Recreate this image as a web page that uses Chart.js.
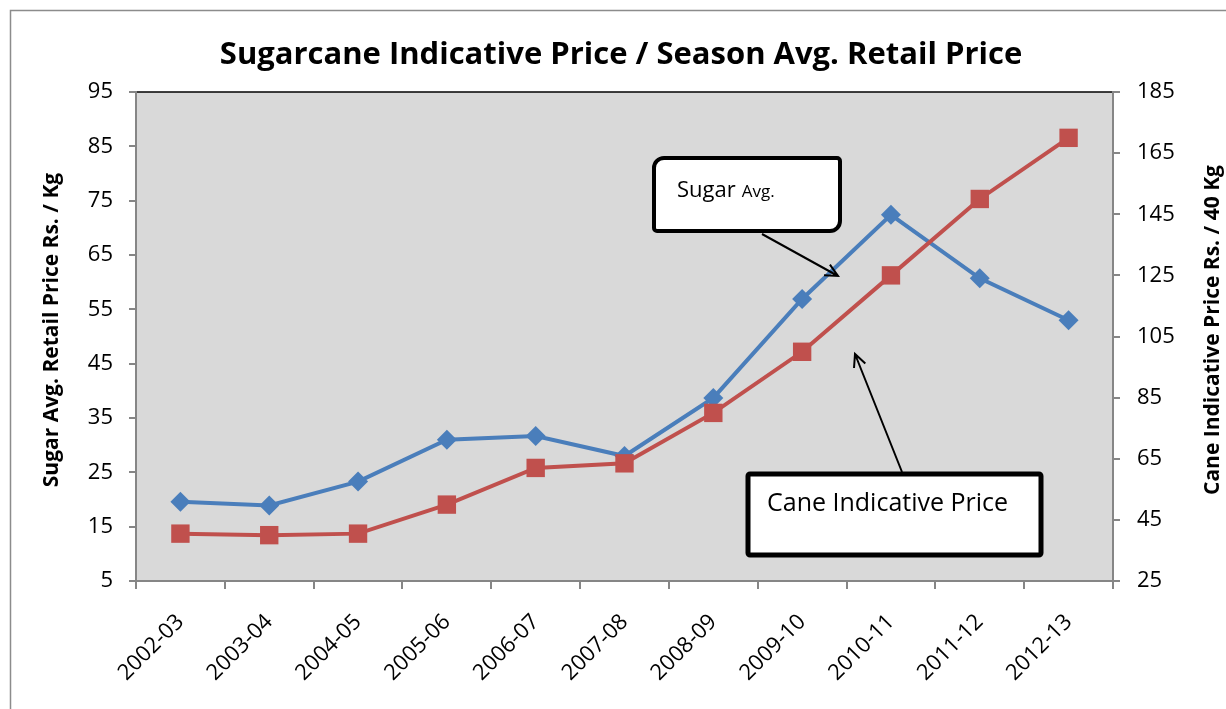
<!DOCTYPE html>
<html>
<head>
<meta charset="utf-8">
<script src="https://cdn.jsdelivr.net/npm/chart.js@4.4.1/dist/chart.umd.min.js"></script>
<style>
  body { margin: 0; background: #fff; }
  canvas { display: block; }
</style>
</head>
<body>
<canvas id="chart" width="1226" height="709"></canvas>
<script>
// data
const categories = ['2002-03', '2003-04', '2004-05', '2005-06', '2006-07', '2007-08',
                    '2008-09', '2009-10', '2010-11', '2011-12', '2012-13'];
const sugarAvg = [19.6, 18.9, 23.3, 31, 31.7, 28, 38.7, 56.9, 72.4, 60.7, 53];
const caneIndicative = [40.5, 40, 40.5, 50, 62, 63.5, 80, 100, 125, 150, 170];

const chartTitle = 'Sugarcane Indicative Price / Season Avg. Retail Price';
const leftTitle = 'Sugar Avg. Retail Price Rs. / Kg';
const rightTitle = 'Cane Indicative Price Rs. / 40 Kg';

const FONT = '"Open Sans", "Noto Sans", sans-serif';

// frame, plot background, titles
const backdrop = {
    id: 'backdrop',
    beforeDraw(chart) {
        const { ctx, chartArea: a } = chart;
        ctx.save();
        ctx.fillStyle = '#fff';
        ctx.fillRect(0, 0, chart.width, chart.height);
        ctx.strokeStyle = '#8c8c8c';
        ctx.lineWidth = 1.5;
        ctx.strokeRect(10.5, 10.5, chart.width + 20, chart.height + 20);
        ctx.fillStyle = '#d9d9d9';
        ctx.fillRect(a.left, a.top, a.right - a.left, a.bottom - a.top);
        ctx.strokeStyle = '#000';
        ctx.lineWidth = 1.5;
        ctx.beginPath();
        ctx.moveTo(a.left, a.top);
        ctx.lineTo(a.right, a.top);
        ctx.stroke();

        ctx.fillStyle = '#000';
        ctx.textAlign = 'center';
        ctx.textBaseline = 'middle';
        ctx.font = 'bold 31px ' + FONT;
        ctx.fillText(chartTitle, 621, 55);

        ctx.font = 'bold 21px ' + FONT;
        ctx.translate(52, 330);
        ctx.rotate(-Math.PI / 2);
        ctx.fillText(leftTitle, 0, 0);
        ctx.restore();

        ctx.save();
        ctx.fillStyle = '#000';
        ctx.textAlign = 'center';
        ctx.textBaseline = 'middle';
        ctx.font = 'bold 21px ' + FONT;
        ctx.translate(1213, 330);
        ctx.rotate(-Math.PI / 2);
        ctx.fillText(rightTitle, 0, 0);
        ctx.restore();
    }
};

// the two callout boxes with arrows
function arrow(ctx, x1, y1, x2, y2) {
    const ang = Math.atan2(y2 - y1, x2 - x1);
    const h = 14;
    ctx.beginPath();
    ctx.moveTo(x1, y1);
    ctx.lineTo(x2, y2);
    ctx.moveTo(x2 - h * Math.cos(ang - 0.45), y2 - h * Math.sin(ang - 0.45));
    ctx.lineTo(x2, y2);
    ctx.lineTo(x2 - h * Math.cos(ang + 0.45), y2 - h * Math.sin(ang + 0.45));
    ctx.stroke();
}

const callouts = {
    id: 'callouts',
    afterDatasetsDraw(chart) {
        const ctx = chart.ctx;
        ctx.save();
        ctx.strokeStyle = '#000';
        ctx.fillStyle = '#fff';

        // Sugar Avg. box
        ctx.lineWidth = 4;
        ctx.beginPath();
        ctx.roundRect(654, 158, 186, 73, [10, 3, 10, 3]);
        ctx.fill();
        ctx.stroke();
        ctx.lineWidth = 2;
        arrow(ctx, 762, 234, 838, 276);

        // Cane Indicative Price box
        ctx.lineWidth = 5;
        ctx.beginPath();
        ctx.roundRect(748, 474, 293, 81, 2);
        ctx.fill();
        ctx.stroke();
        ctx.lineWidth = 2;
        arrow(ctx, 902, 472, 855, 354);

        ctx.fillStyle = '#000';
        ctx.textBaseline = 'alphabetic';
        ctx.textAlign = 'left';
        ctx.font = '22px ' + FONT;
        ctx.fillText('Sugar', 677, 197);
        const w = ctx.measureText('Sugar').width + 6;
        ctx.font = '17px ' + FONT;
        ctx.fillText('Avg.', 677 + w, 197);

        ctx.font = '25px ' + FONT;
        ctx.fillText('Cane Indicative Price', 767, 511);
        ctx.restore();
    }
};

const ctx = document.getElementById('chart').getContext('2d');

new Chart(ctx, {
    type: 'line',
    data: {
        labels: categories,
        datasets: [
            {
                label: 'Sugar Avg.',
                data: sugarAvg,
                yAxisID: 'y',
                borderColor: '#4a7ebb',
                backgroundColor: '#4a7ebb',
                borderWidth: 4,
                pointStyle: 'rectRot',
                pointRadius: 10,
                pointBorderWidth: 0,
                tension: 0,
                order: 2
            },
            {
                label: 'Cane Indicative Price',
                data: caneIndicative,
                yAxisID: 'y1',
                borderColor: '#c0504d',
                backgroundColor: '#c0504d',
                borderWidth: 4,
                pointStyle: 'rect',
                pointRadius: 13,
                pointBorderWidth: 0,
                tension: 0,
                order: 1
            }
        ]
    },
    options: {
        responsive: false,
        animation: false,
        layout: { padding: { top: 92, left: 0, right: 0, bottom: 0 } },
        plugins: {
            legend: { display: false },
            title: { display: false },
            tooltip: { enabled: false }
        },
        scales: {
            x: {
                offset: true,
                grid: { offset: true, drawOnChartArea: false, tickLength: 8, color: '#868686', lineWidth: 2 },
                border: { color: '#868686', width: 2 },
                ticks: {
                    color: '#000',
                    font: { family: FONT, size: 22 },
                    minRotation: 45,
                    maxRotation: 45,
                    padding: 20
                },
                afterFit(scale) { scale.height = 128; }
            },
            y: {
                position: 'left',
                min: 5,
                max: 95,
                grid: { drawOnChartArea: false, tickLength: 7, color: '#868686', lineWidth: 2 },
                border: { color: '#868686', width: 2 },
                ticks: { stepSize: 10, color: '#000', font: { family: FONT, size: 22 }, padding: 16 },
                afterFit(scale) { scale.width = 136; }
            },
            y1: {
                position: 'right',
                min: 25,
                max: 185,
                grid: { drawOnChartArea: false, tickLength: 7, color: '#868686', lineWidth: 2 },
                border: { color: '#868686', width: 2 },
                ticks: { stepSize: 20, color: '#000', font: { family: FONT, size: 22 }, padding: 17 },
                afterFit(scale) { scale.width = 113; }
            }
        }
    },
    plugins: [backdrop, callouts]
});
</script>
</body>
</html>
